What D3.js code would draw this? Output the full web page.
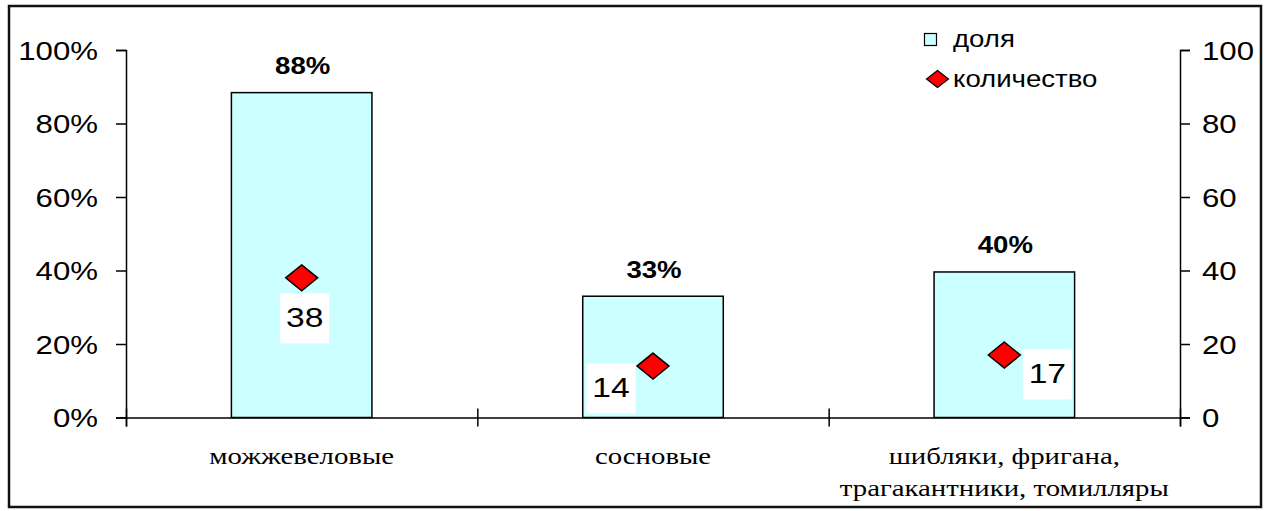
<!DOCTYPE html>
<html>
<head>
<meta charset="utf-8">
<script src="https://cdn.jsdelivr.net/npm/d3@7"></script>
<style>
  body { margin: 0; background: #fff; }
  svg { display: block; }
</style>
</head>
<body>
<div id="chart"></div>
<script>
// data
const categories = [["можжевеловые"], ["сосновые"], ["шибляки, фригана,", "трагакантники, томилляры"]];
const shares = [0.884, 0.33, 0.396];   // доля (left axis)
const counts = [38, 14, 17];           // количество (right axis)
const leftTicks = [0, 0.2, 0.4, 0.6, 0.8, 1];
const rightTicks = [0, 20, 40, 60, 80, 100];
const seriesNames = ["доля", "количество"];

const width = 1275, height = 511;
const margin = {left: 126, right: 95, top: 50, bottom: 93.5};
const plotBottom = height - margin.bottom;
const SX = 1.2; // the original picture is stretched sideways

const svg = d3.select("#chart").append("svg")
  .attr("width", width).attr("height", height);

// outer frame
svg.append("rect")
  .attr("x", 9).attr("y", 6).attr("width", 1252).attr("height", 501)
  .attr("fill", "none").attr("stroke", "#111").attr("stroke-width", 2.5);

const xBand = d3.scaleBand()
  .domain(d3.range(categories.length))
  .range([margin.left, width - margin.right])
  .paddingInner(0.6).paddingOuter(0.3);

const xEdge = d3.scaleLinear()
  .domain([0, categories.length])
  .range([margin.left, width - margin.right]);

const yLeft = d3.scaleLinear().domain([0, 1]).range([plotBottom, margin.top]);
const yRight = d3.scaleLinear().domain([0, 100]).range([plotBottom, margin.top]);

// stretch text sideways around its own anchor
function stretch(sel) {
  sel.each(function() {
    const t = d3.select(this);
    const x = +t.attr("x") || 0, y = +t.attr("y") || 0;
    t.attr("x", 0).attr("y", 0)
     .attr("transform", `translate(${x},${y}) scale(${SX},1)`);
  });
}

const sans = "'Liberation Sans', Arial, sans-serif";
const serif = "'Liberation Serif', 'Times New Roman', serif";

// bars
svg.selectAll(".bar")
  .data(shares)
  .enter().append("rect")
    .attr("class", "bar")
    .attr("x", (d, i) => xBand(i))
    .attr("y", d => yLeft(d))
    .attr("width", xBand.bandwidth())
    .attr("height", d => plotBottom - yLeft(d))
    .attr("fill", "#CCFFFF")
    .attr("stroke", "#000").attr("stroke-width", 1.5);

// bar labels
svg.selectAll(".barlabel")
  .data(shares)
  .enter().append("text")
    .attr("class", "barlabel")
    .attr("x", (d, i) => xBand(i) + xBand.bandwidth() / 2 + 1)
    .attr("y", d => yLeft(d) - 18.5)
    .attr("text-anchor", "middle")
    .attr("font-family", sans).attr("font-weight", "bold").attr("font-size", 23)
    .text(d => Math.round(d * 100) + "%")
    .call(stretch);

// left axis
const gl = svg.append("g")
  .attr("transform", `translate(${margin.left},0)`)
  .call(d3.axisLeft(yLeft).tickValues(leftTicks).tickSize(10).tickPadding(18)
    .tickFormat(d => Math.round(d * 100) + "%"));
gl.select(".domain").attr("stroke", "#000").attr("stroke-width", 1.5);
gl.selectAll(".tick line").attr("stroke", "#000").attr("stroke-width", 1.5);
gl.selectAll(".tick text").attr("font-family", sans).attr("font-size", 26)
  .attr("fill", "#000").attr("dy", "0.36em")
  .each(function() { d3.select(this).attr("x", -28); }).call(stretch);

// right axis
const gr = svg.append("g")
  .attr("transform", `translate(${width - margin.right},0)`)
  .call(d3.axisRight(yRight).tickValues(rightTicks).tickSize(10).tickPadding(14));
gr.select(".domain").attr("stroke", "#000").attr("stroke-width", 1.5);
gr.selectAll(".tick line").attr("stroke", "#000").attr("stroke-width", 1.5);
gr.selectAll(".tick text").attr("font-family", sans).attr("font-size", 26)
  .attr("fill", "#000").attr("dy", "0.36em")
  .each(function() { d3.select(this).attr("x", 22); }).call(stretch);

// category axis: line plus crossing ticks at the category edges
const gb = svg.append("g")
  .attr("transform", `translate(0,${plotBottom})`)
  .call(d3.axisBottom(xEdge).tickValues(d3.range(categories.length + 1))
    .tickSize(9).tickFormat(""));
gb.select(".domain").attr("stroke", "#000").attr("stroke-width", 1.5);
gb.selectAll(".tick line").attr("stroke", "#000").attr("stroke-width", 1.5)
  .attr("y1", -9).attr("y2", 9);

// category labels
const gc = svg.append("g")
  .attr("transform", `translate(0,${plotBottom})`)
  .call(d3.axisBottom(xBand).tickSize(0).tickFormat(""));
gc.select(".domain").remove();
gc.selectAll(".tick").each(function(d) {
  const lines = categories[d];
  const g = d3.select(this);
  lines.forEach((ln, j) => {
    g.append("text")
      .attr("x", 0).attr("y", 46 + j * 32)
      .attr("text-anchor", "middle")
      .attr("font-family", serif).attr("font-size", 24).attr("fill", "#000")
      .text(ln)
      .call(stretch);
  });
});

// count markers
const diamond = (hw, hh) => `M0,${-hh}L${hw},0L0,${hh}L${-hw},0Z`;
const labelPos = [[3, 49], [-42, 31], [43, 28]];

const gm = svg.append("g");
gm.selectAll(".cnt")
  .data(counts)
  .enter().append("path")
    .attr("class", "cnt")
    .attr("d", diamond(16, 13))
    .attr("transform", (d, i) => `translate(${xBand(i) + xBand.bandwidth() / 2},${yRight(d)})`)
    .attr("fill", "#FF0000").attr("stroke", "#000").attr("stroke-width", 1.5);

const gcl = gm.selectAll(".cntlabel")
  .data(counts)
  .enter().append("g")
    .attr("class", "cntlabel")
    .attr("transform", (d, i) => `translate(${xBand(i) + xBand.bandwidth() / 2 + labelPos[i][0]},${yRight(d) + labelPos[i][1]})`);
gcl.append("rect")
  .attr("x", -24.5).attr("y", -33.5).attr("width", 49).attr("height", 50)
  .attr("fill", "#fff");
gcl.append("text")
  .attr("text-anchor", "middle")
  .attr("font-family", sans).attr("font-size", 28).attr("fill", "#000")
  .text(d => d)
  .call(stretch);

// legend
const lg = svg.append("g");
lg.append("rect")
  .attr("x", 924.5).attr("y", 33.5).attr("width", 12).attr("height", 12)
  .attr("fill", "#CCFFFF").attr("stroke", "#000").attr("stroke-width", 1.2);
lg.append("path")
  .attr("d", diamond(11, 8.5))
  .attr("transform", "translate(937.5,79)")
  .attr("fill", "#FF0000").attr("stroke", "#000").attr("stroke-width", 1.2);
lg.selectAll(".lgtext")
  .data(seriesNames)
  .enter().append("text")
    .attr("class", "lgtext")
    .attr("x", 953)
    .attr("y", (d, i) => 47 + i * 40)
    .attr("font-family", sans).attr("font-size", 23).attr("fill", "#000")
    .text(d => d)
    .call(stretch);
</script>
</body>
</html>
